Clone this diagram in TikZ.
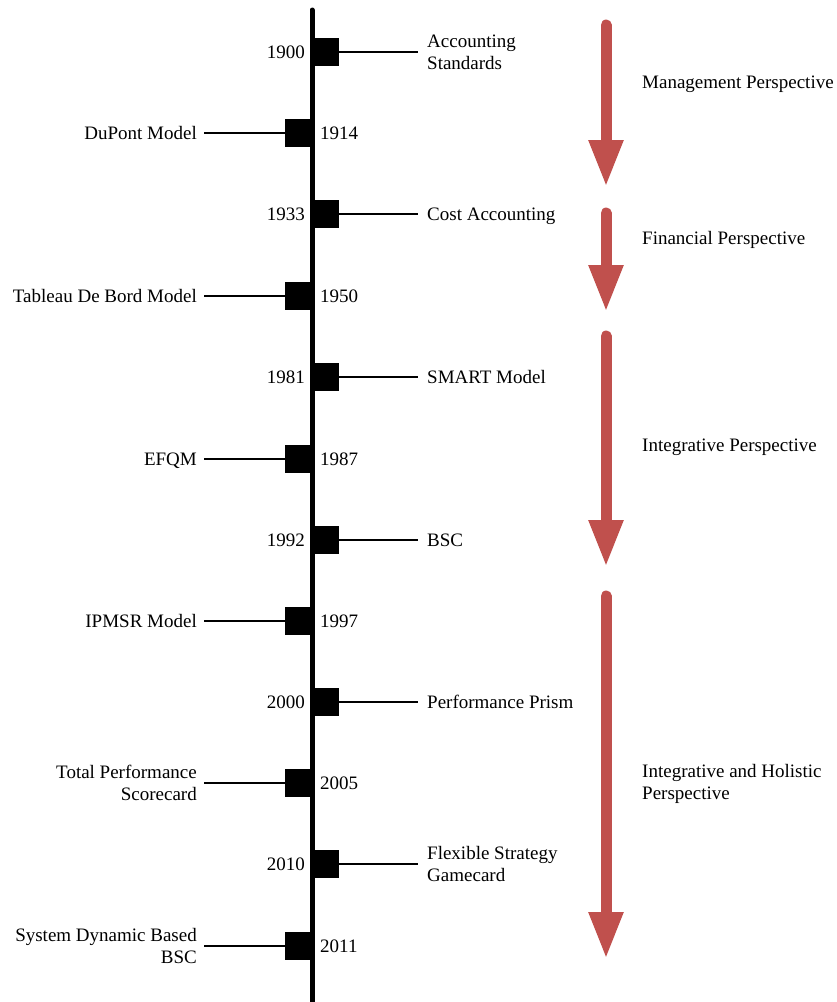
\documentclass[tikz,border=0pt]{standalone}
\usepackage{fontspec}
\setmainfont{Liberation Serif}
\usetikzlibrary{arrows.meta}
\definecolor{perspred}{HTML}{C0504D}
\begin{document}
\begin{tikzpicture}[x=1pt,y=-1pt,
  every node/.style={font=\fontsize{19}{22}\selectfont},
  milestone/.style={fill=black, inner sep=0, minimum width=27, minimum height=28},
  tick/.style={line width=2.5},
  rlabel/.style={anchor=west, align=left, inner xsep=9, inner ysep=0, text depth=0pt},
  llabel/.style={anchor=east, align=right, inner xsep=7, inner ysep=0, text depth=0pt},
  lyear/.style={anchor=east, inner sep=0},
  ryear/.style={anchor=west, inner sep=0},
  persp/.style={line width=11, line cap=round, perspred, -{Triangle[width=32pt,length=47pt]}},
  plabel/.style={anchor=west, align=left, inner sep=0, text depth=0pt}]
\useasboundingbox (0,0) rectangle (836,1002);

% time axis
\coordinate (axtop) at (312,10);
\coordinate (axbot) at (312,1010);
\draw[line width=5, line cap=round] (axtop) -- (axbot);

% milestones to the right of the axis
\foreach \n/\y/\yr/\txt in {a/52/1900/{Accounting\\Standards},
                            c/214/1933/{Cost Accounting},
                            e/377/1981/{SMART Model},
                            g/540/1992/{BSC},
                            i/702/2000/{Performance Prism},
                            k/864/2010/{Flexible Strategy\\Gamecard}}{
  \node[milestone] (sq\n) at (325.5,\y) {};
  \node[lyear] (yr\n) at (305,\y) {\yr};
  \node[rlabel] (lb\n) at (418,\y) {\txt};
  \draw[tick] (sq\n.east) -- (lb\n.west);
}

% milestones to the left of the axis
\foreach \n/\y/\yr/\txt in {b/133/1914/{DuPont Model},
                            d/296/1950/{Tableau De Bord Model},
                            f/459/1987/{EFQM},
                            h/621/1997/{IPMSR Model},
                            j/783/2005/{Total Performance\\Scorecard},
                            l/946/2011/{System Dynamic Based\\BSC}}{
  \node[milestone] (sq\n) at (298.5,\y) {};
  \node[ryear] (yr\n) at (320,\y) {\yr};
  \node[llabel] (lb\n) at (204,\y) {\txt};
  \draw[tick] (sq\n.west) -- (lb\n.east);
}

% perspective arrows
\coordinate (p1s) at (606,25);  \coordinate (p1e) at (606,187);
\coordinate (p2s) at (606,213); \coordinate (p2e) at (606,312);
\coordinate (p3s) at (606,336); \coordinate (p3e) at (606,567);
\coordinate (p4s) at (606,596); \coordinate (p4e) at (606,959);
\draw[persp] (p1s) -- (p1e);
\draw[persp] (p2s) -- (p2e);
\draw[persp] (p3s) -- (p3e);
\draw[persp] (p4s) -- (p4e);

\node[plabel] (pl1) at (642,82) {Management Perspective};
\node[plabel] (pl2) at (642,238) {Financial Perspective};
\node[plabel] (pl3) at (642,445) {Integrative Perspective};
\node[plabel] (pl4) at (642,782) {Integrative and Holistic\\Perspective};
\end{tikzpicture}
\end{document}
